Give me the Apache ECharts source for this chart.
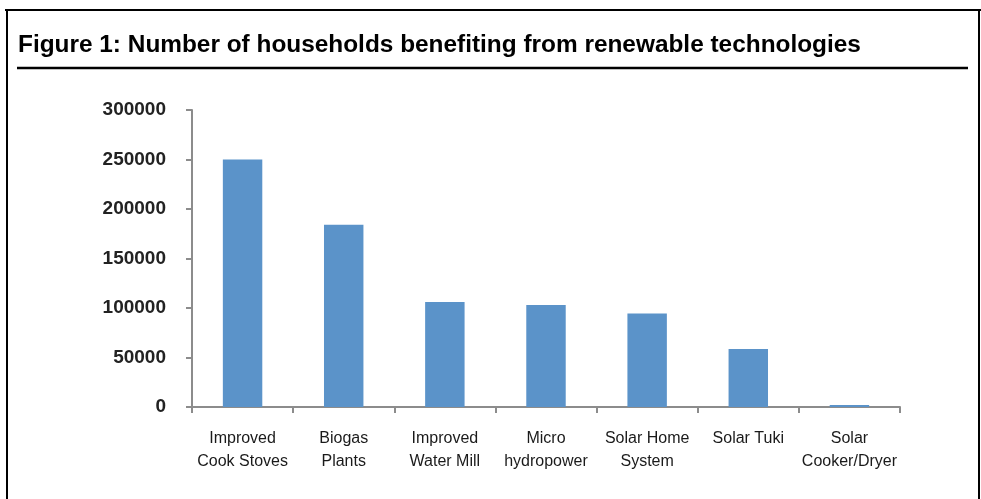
<!DOCTYPE html>
<html>
<head>
<meta charset="utf-8">
<script src="https://cdn.jsdelivr.net/npm/echarts@6/dist/echarts.min.js"></script>
<style>
  html, body { margin: 0; padding: 0; background: #fff; }
  #chart { width: 981px; height: 499px; }
</style>
</head>
<body>
<div id="chart"></div>
<script>
// Households reached by each renewable technology
const categories = [
  'Improved\nCook Stoves',
  'Biogas\nPlants',
  'Improved\nWater Mill',
  'Micro\nhydropower',
  'Solar Home\nSystem',
  'Solar Tuki',
  'Solar\nCooker/Dryer'
];
const households = [250000, 184000, 106000, 103000, 94500, 58500, 2000];

const yMin = 0;
const yMax = 300000;
const yStep = 50000;

const titleText = 'Figure 1: Number of households benefiting from renewable technologies';

const font = '"Liberation Sans", Arial, sans-serif';

const chart = echarts.init(document.getElementById('chart'), null, { renderer: 'canvas' });

chart.setOption({
  backgroundColor: '#ffffff',
  animation: false,
  title: {
    text: titleText,
    left: 13,
    top: 28,
    textStyle: {
      fontFamily: font,
      fontSize: 24.4,
      fontWeight: 'bold',
      color: '#000'
    }
  },
  // frame around the figure and rule under the heading
  graphic: [
    { type: 'line', shape: { x1: 5, y1: 10, x2: 981, y2: 10 }, style: { stroke: '#000', lineWidth: 2 } },
    { type: 'line', shape: { x1: 7, y1: 10, x2: 7, y2: 499 }, style: { stroke: '#000', lineWidth: 2 } },
    { type: 'line', shape: { x1: 979, y1: 10, x2: 979, y2: 499 }, style: { stroke: '#000', lineWidth: 2 } },
    { type: 'line', shape: { x1: 17, y1: 68, x2: 968, y2: 68 }, style: { stroke: '#000', lineWidth: 2.5 } }
  ],
  grid: {
    left: 192,
    right: 81,
    top: 110,
    bottom: 92,
    containLabel: false
  },
  xAxis: {
    type: 'category',
    data: categories,
    axisLine: { show: true, lineStyle: { color: '#8c8c8c', width: 2 } },
    axisTick: { show: true, length: 6, lineStyle: { color: '#8c8c8c', width: 2 } },
    axisLabel: {
      interval: 0,
      margin: 20,
      fontFamily: font,
      fontSize: 16,
      lineHeight: 23,
      color: '#1a1a1a'
    },
    splitLine: { show: false }
  },
  yAxis: {
    type: 'value',
    min: yMin,
    max: yMax,
    interval: yStep,
    axisLine: { show: true, lineStyle: { color: '#8c8c8c', width: 2 } },
    axisTick: { show: true, length: 6, lineStyle: { color: '#8c8c8c', width: 2 } },
    axisLabel: {
      margin: 26,
      fontFamily: font,
      fontSize: 19,
      fontWeight: 'bold',
      color: '#222',
      formatter: function (v) { return String(v); }
    },
    splitLine: { show: false }
  },
  series: [{
    type: 'bar',
    data: households,
    barWidth: '39%',
    itemStyle: { color: '#5b93c9' }
  }]
});
</script>
</body>
</html>
